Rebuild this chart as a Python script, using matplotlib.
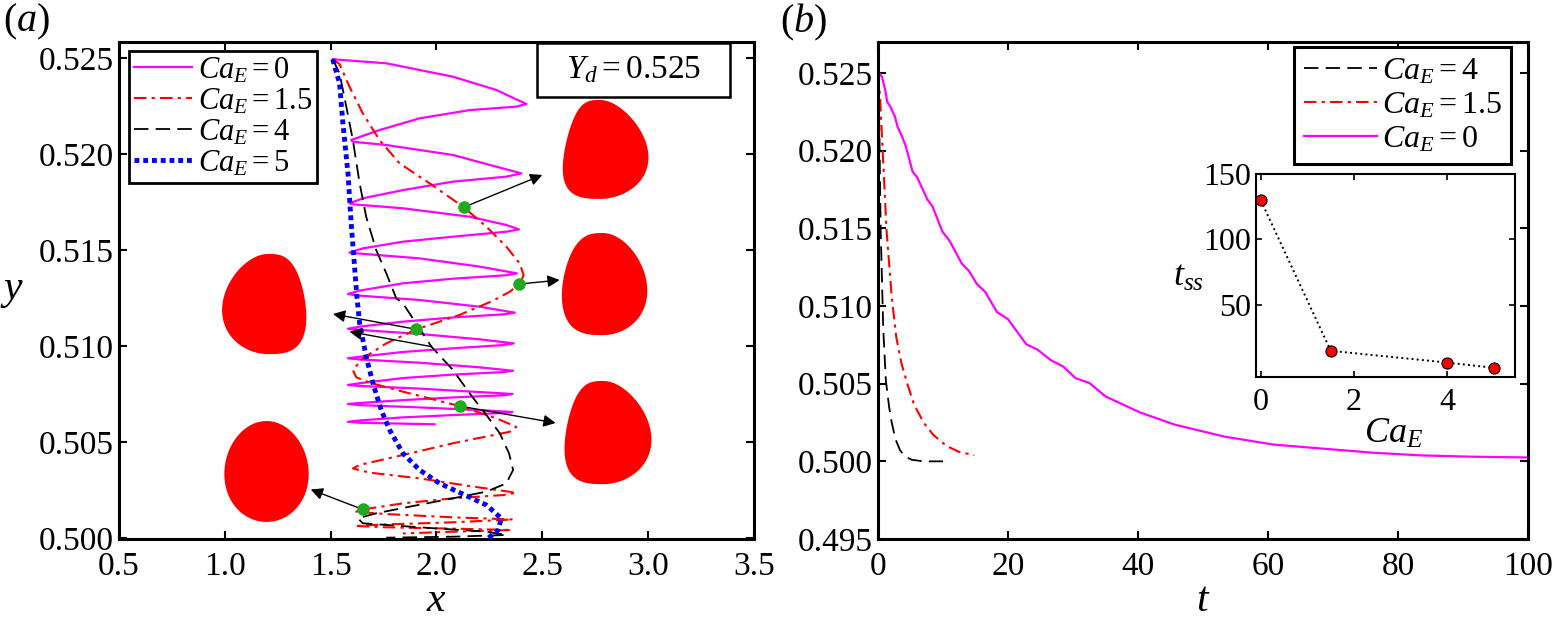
import numpy as np
import matplotlib
matplotlib.use('Agg')
import matplotlib.pyplot as plt
from matplotlib.patches import Polygon, Rectangle

plt.rcParams['font.family'] = 'serif'
plt.rcParams['font.serif'] = ['Liberation Serif', 'DejaVu Serif']
plt.rcParams['mathtext.fontset'] = 'custom'
plt.rcParams['mathtext.rm'] = 'Liberation Serif'
plt.rcParams['mathtext.it'] = 'Liberation Serif:italic'
plt.rcParams['xtick.direction'] = 'in'
plt.rcParams['ytick.direction'] = 'in'
plt.rcParams['xtick.top'] = True
plt.rcParams['ytick.right'] = True

# ---------------- data: panel (a) trajectories ----------------
x_ca0 = [1.510, 1.763, 2.078, 2.283, 2.377, 2.425, 2.377, 2.157, 1.920, 1.731, 1.597,
         1.605, 1.763, 2.078, 2.283, 2.401, 2.330, 2.078, 1.842, 1.652, 1.589,
         1.605, 1.842, 2.157, 2.330, 2.390, 2.330, 2.078, 1.842, 1.652, 1.589,
         1.637, 1.920, 2.204, 2.380, 2.330, 2.078, 1.842, 1.637, 1.582,
         1.621, 1.920, 2.204, 2.370, 2.314, 2.078, 1.842, 1.637, 1.582,
         1.637, 1.920, 2.204, 2.365, 2.314, 2.078, 1.842, 1.637, 1.582,
         1.637, 1.920, 2.204, 2.362, 2.314, 2.078, 1.842, 1.637, 1.582,
         1.637, 1.920, 2.204, 2.359, 2.314, 2.078, 1.842, 1.637, 1.582,
         1.637, 1.920, 2.204, 2.359, 2.314, 2.078, 1.842, 1.637, 1.582,
         1.637, 1.991]
y_ca0 = [0.52496, 0.52475, 0.52405, 0.52336, 0.52287, 0.52263, 0.52249, 0.52231, 0.52188, 0.52127, 0.52075,
         0.52066, 0.52049, 0.51997, 0.51936, 0.51901, 0.51884, 0.51858, 0.51814, 0.51771, 0.51745,
         0.51740, 0.51719, 0.51675, 0.51632, 0.51609, 0.51597, 0.51571, 0.51545, 0.51510, 0.51488,
         0.51483, 0.51458, 0.51415, 0.51380, 0.51370, 0.51352, 0.51328, 0.51290, 0.51272,
         0.51265, 0.51241, 0.51206, 0.51175, 0.51166, 0.51150, 0.51128, 0.51102, 0.51091,
         0.51085, 0.51064, 0.51036, 0.51015, 0.51006, 0.50989, 0.50970, 0.50945, 0.50937,
         0.50931, 0.50914, 0.50890, 0.50872, 0.50865, 0.50852, 0.50834, 0.50807, 0.50798,
         0.50793, 0.50779, 0.50761, 0.50751, 0.50744, 0.50733, 0.50719, 0.50704, 0.50699,
         0.50693, 0.50681, 0.50667, 0.50657, 0.50652, 0.50641, 0.50629, 0.50613, 0.50606,
         0.50601, 0.50593]

x_ca15 = [1.510, 1.542, 1.589, 1.652, 1.731, 1.826, 1.968, 2.125, 2.236, 2.330, 2.393, 2.412,
          2.393, 2.346, 2.267, 2.109, 1.905, 1.763, 1.652, 1.605, 1.621, 1.684, 1.842, 2.109,
          2.283, 2.377, 2.346, 2.078, 1.842, 1.637, 1.605, 1.684, 1.920, 2.157, 2.377, 2.314,
          2.078, 1.842, 1.652, 1.621, 1.763, 2.078, 2.362, 2.078, 1.763, 1.613, 1.763, 2.078,
          2.354, 2.078, 1.842]
y_ca15 = [0.52496, 0.52471, 0.52353, 0.52214, 0.52075, 0.51953, 0.51849, 0.51728, 0.51623, 0.51519,
          0.51432, 0.51371, 0.51324, 0.51284, 0.51237, 0.51163, 0.51088, 0.51015, 0.50937, 0.50876,
          0.50838, 0.50810, 0.50763, 0.50688, 0.50624, 0.50580, 0.50554, 0.50494, 0.50433, 0.50381,
          0.50363, 0.50341, 0.50311, 0.50271, 0.50236, 0.50224, 0.50207, 0.50181, 0.50149, 0.50137,
          0.50125, 0.50108, 0.50097, 0.50082, 0.50071, 0.50063, 0.50056, 0.50049, 0.50042, 0.50033,
          0.50024]

x_ca4 = [1.510, 1.542, 1.574, 1.605, 1.637, 1.668, 1.715, 1.763, 1.810, 1.842, 1.976, 2.078,
         2.157, 2.236, 2.299, 2.343, 2.362, 2.330, 2.236, 2.078, 1.889, 1.715, 1.629, 1.652,
         1.920, 2.236, 2.330, 2.078, 1.763]
y_ca4 = [0.52496, 0.52423, 0.52249, 0.52075, 0.51849, 0.51675, 0.51502, 0.51380, 0.51250, 0.51223,
         0.50998, 0.50876, 0.50754, 0.50641, 0.50546, 0.50441, 0.50355, 0.50285, 0.50242, 0.50207,
         0.50167, 0.50129, 0.50103, 0.50077, 0.50056, 0.50033, 0.50016, 0.50007, 0.50002]

x_ca5 = [1.510, 1.542, 1.558, 1.582, 1.597, 1.613, 1.624, 1.637, 1.668, 1.700, 1.739, 1.779,
         1.842, 1.920, 2.015, 2.125, 2.236, 2.306, 2.291, 2.243]
y_ca5 = [0.52496, 0.52371, 0.52162, 0.51901, 0.51641, 0.51415, 0.51258, 0.51119, 0.50945, 0.50806,
         0.50667, 0.50563, 0.50441, 0.50355, 0.50285, 0.50229, 0.50172, 0.50103, 0.50042, 0.49998]

# green marker points and arrow tips (start -> tip)
dot_x = [2.128, 2.390, 1.905, 2.109, 1.652]
dot_y = [0.51724, 0.51324, 0.51088, 0.50688, 0.50149]
arrow_start = [(2.128, 0.51724), (2.390, 0.51324), (1.905, 0.51088), (1.976, 0.50998),
               (2.109, 0.50688), (1.652, 0.50149)]
arrow_tip = [(2.500, 0.51893), (2.582, 0.51345), (1.511, 0.51168), (1.589, 0.51076),
             (2.563, 0.50600), (1.406, 0.50253)]

# droplet shapes: centre x, centre y, half width, half height, top taper, flat side, tip shift
drop_cx = [2.802, 2.795, 2.812, 1.185, 1.197]
drop_cy = [0.52026, 0.51324, 0.50550, 0.51220, 0.50347]
drop_a = [0.196, 0.199, 0.201, 0.196, 0.199]
drop_b = [0.00258, 0.00266, 0.00269, 0.00261, 0.00263]
drop_k = [0.22, 0.15, 0.18, 0.15, 0.05]
drop_flat = ['L', 'L', 'L', 'R', '']
drop_s = [-0.15, -0.05, -0.12, 0.1, 0.0]

# ---------------- data: panel (b) ----------------
t_ca4 = [0, 0.2, 0.4, 0.8, 1.2, 1.7, 2.1, 2.7, 3.4, 4.2, 5.2, 7.0, 10.0]
y_t_ca4 = [0.525, 0.5213, 0.5149, 0.5085, 0.5052, 0.5035, 0.5025, 0.5014, 0.5007, 0.5003,
           0.5001, 0.5000, 0.5000]
t_ca15 = [0, 0.3, 0.8, 1.3, 2.1, 2.8, 3.6, 4.5, 5.5, 7.0, 8.5, 10.5, 12.5, 14.8]
y_t_ca15 = [0.525, 0.5235, 0.5192, 0.5149, 0.5106, 0.5080, 0.5063, 0.5050, 0.5037, 0.5025,
            0.5017, 0.5010, 0.5006, 0.5004]
t_ca0 = [0, 0.6, 1.1, 1.4, 1.9, 2.6, 3.0, 3.7, 4.2, 4.7, 5.3, 6.0, 7.6, 8.4, 9.9, 11.0, 12.9,
         14.0, 15.2, 16.5, 18.3, 20.0, 22.8, 24.5, 26.6, 28.5, 30.4, 32.5, 35.0, 40.3, 45.6,
         53.2, 60.8, 68.4, 76.0, 83.7, 91.3, 100.0]
y_t_ca0 = [0.52508, 0.52476, 0.52391, 0.52315, 0.52283, 0.52219, 0.52154, 0.52090, 0.52037,
           0.51962, 0.51866, 0.51830, 0.51685, 0.51640, 0.51479, 0.51420, 0.51272, 0.51225,
           0.51142, 0.51090, 0.50961, 0.50915, 0.50754, 0.50720, 0.50651, 0.50610, 0.50535,
           0.50505, 0.50418, 0.50315, 0.50237, 0.50160, 0.50108, 0.50082, 0.50056, 0.50038,
           0.50030, 0.50025]

# inset: steady-state time
ca_inset = [0, 1.5, 4, 5]
tss_inset = [130, 15, 6, 2]

MAG = '#ff00ff'
RED = '#ff0000'
BLUE = '#0000ff'
GREEN = '#1faa1f'
DASHDOT = (6, 2.5, 1.5, 2.5)
DASH = (8, 4)


def drop_xy(cx, cy, a, b, k, flat, s):
    t = np.linspace(0, 2 * np.pi, 300)
    u, v = np.cos(t), np.sin(t)
    if flat == 'L':
        u = np.where(u < 0, -np.abs(u) ** 0.7, u)
    elif flat == 'R':
        u = np.where(u > 0, np.abs(u) ** 0.7, u)
    xs = u * (1 - k * v) + s * v ** 2
    return np.column_stack([cx + a * xs, cy + b * v])


fig = plt.figure(figsize=(15.53, 6.25), dpi=100)
ax1 = fig.add_axes([0.0766, 0.1376, 0.4089, 0.7952])
ax2 = fig.add_axes([0.5654, 0.1376, 0.4185, 0.7952])
axi = fig.add_axes([0.8088, 0.3968, 0.1668, 0.3248])

# ---------------- panel (a) ----------------
for i in range(len(drop_cx)):
    pts = drop_xy(drop_cx[i], drop_cy[i], drop_a[i], drop_b[i], drop_k[i], drop_flat[i], drop_s[i])
    ax1.add_patch(Polygon(pts, closed=True, facecolor=RED, edgecolor='none', zorder=1))

ax1.plot(x_ca0, y_ca0, color=MAG, lw=1.6, label='$Ca_E = 0$', zorder=3)
ax1.plot(x_ca15, y_ca15, color=RED, lw=1.5, dashes=DASHDOT, label='$Ca_E = 1.5$', zorder=3)
ax1.plot(x_ca4, y_ca4, color='k', lw=1.3, dashes=DASH, label='$Ca_E = 4$', zorder=3)
ax1.plot(x_ca5, y_ca5, color=BLUE, lw=3.5, dashes=(1.0, 0.8), label='$Ca_E = 5$', zorder=3)

for s, e in zip(arrow_start, arrow_tip):
    ax1.annotate('', xy=e, xytext=s,
                 arrowprops=dict(arrowstyle='-|>', color='k', lw=1.0, mutation_scale=18,
                                 shrinkA=0, shrinkB=0), zorder=4)
ax1.plot(dot_x, dot_y, 'o', color=GREEN, ms=8, zorder=5)

ax1.set_xlim(0.5, 3.5)
ax1.set_ylim(0.49995, 0.52586)
ax1.set_xticks(np.arange(0.5, 3.51, 0.5))
ax1.set_xticklabels(['%.1f' % v for v in np.arange(0.5, 3.51, 0.5)])
ax1.set_yticks(np.arange(0.500, 0.5251, 0.005))
ax1.set_yticklabels(['%.3f' % v for v in np.arange(0.500, 0.5251, 0.005)])
ax1.set_xlabel('$x$', fontsize=30)
ax1.xaxis.set_label_coords(0.5, -0.085)
ax1.xaxis.label.set_va('top')
ax1.set_ylabel('$y$', fontsize=30, rotation=0, ha='center', va='center')
ax1.yaxis.set_label_coords(-0.168, 0.50)

leg1 = ax1.legend(loc='upper left', bbox_to_anchor=(0.0157, 0.982), borderaxespad=0,
                  fontsize=22, handlelength=1.9, handletextpad=0.2, labelspacing=0.05,
                  borderpad=0.15, fancybox=False, framealpha=1, edgecolor='k')
leg1.get_frame().set_linewidth(2.0)

ax1.add_patch(Rectangle((0.658, 0.889), 0.304, 0.109, transform=ax1.transAxes,
                        facecolor='white', edgecolor='k', lw=1.8, zorder=6))
ax1.text(0.81, 0.944, '$Y_d = 0.525$', transform=ax1.transAxes, fontsize=24,
         ha='center', va='center', zorder=7)

# ---------------- panel (b) ----------------
ax2.plot(t_ca4, y_t_ca4, color='k', lw=1.3, dashes=DASH, label='$Ca_E = 4$')
ax2.plot(t_ca15, y_t_ca15, color=RED, lw=1.5, dashes=DASHDOT, label='$Ca_E = 1.5$')
ax2.plot(t_ca0, y_t_ca0, color=MAG, lw=1.6, label='$Ca_E = 0$')
ax2.set_xlim(0, 100)
ax2.set_ylim(0.495, 0.527)
ax2.set_xticks(np.arange(0, 101, 20))
ax2.set_yticks(np.arange(0.495, 0.5251, 0.005))
ax2.set_yticklabels(['%.3f' % v for v in np.arange(0.495, 0.5251, 0.005)])
ax2.set_xlabel('$t$', fontsize=30)
ax2.xaxis.set_label_coords(0.5, -0.085)
ax2.xaxis.label.set_va('top')

leg2 = ax2.legend(loc='upper left', bbox_to_anchor=(0.64, 0.99), borderaxespad=0,
                  fontsize=23, handlelength=2.3, handletextpad=0.15, labelspacing=0.15,
                  borderpad=0.3, fancybox=False, framealpha=1, edgecolor='k')
leg2.get_frame().set_linewidth(2.2)

# inset
axi.plot(ca_inset, tss_inset, ':', color='k', lw=1.4)
axi.plot(ca_inset, tss_inset, 'o', mfc=RED, mec='k', mew=0.8, ms=8)
axi.set_xlim(-0.1, 5.45)
axi.set_ylim(-5, 150)
axi.set_xticks([0, 2, 4])
axi.set_yticks([50, 100, 150])
axi.tick_params(labelsize=23, length=4, width=1.2)
axi.tick_params(axis='x', pad=8)
axi.set_xlabel('$Ca_E$', fontsize=26)
axi.xaxis.set_label_coords(0.53, -0.2)
axi.xaxis.label.set_va('top')
axi.set_ylabel('$t_{ss}$', fontsize=26, rotation=0, ha='center', va='center')
axi.yaxis.set_label_coords(-0.26, 0.49)
for sp in axi.spines.values():
    sp.set_linewidth(1.5)

for ax in (ax1, ax2):
    ax.tick_params(labelsize=24, length=6, width=1.5)
    ax.tick_params(axis='x', pad=9)
    ax.tick_params(axis='y', pad=4)
    for sp in ax.spines.values():
        sp.set_linewidth(2.2)

fig.text(0.002, 0.997, '$(a)$', fontsize=29, ha='left', va='top')
fig.text(0.5025, 0.997, '$(b)$', fontsize=29, ha='left', va='top')

fig.savefig('out.png', dpi=100)
